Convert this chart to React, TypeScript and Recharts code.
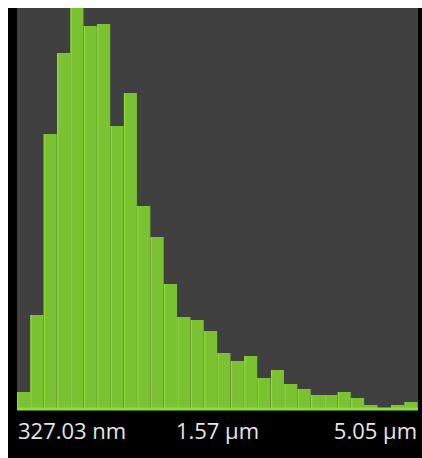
import { BarChart, Bar, XAxis, YAxis, CartesianGrid } from 'recharts';

// histogram bin heights (bin 5 runs past the top)
const binCounts = [
  17, 94, 275, 356, 404, 383, 385, 283, 316, 203,
  172, 125, 92, 89, 78, 56, 48, 53, 31, 39,
  25, 20, 14, 14, 17, 11, 4, 1, 4, 7,
];
const bins = binCounts.map((_, i) => `b${i}`);
// labelled bins: first, middle, last
const tickBins = ['b0', 'b15', 'b29'];
const tickLabels = ['327.03 nm', '1.57 µm', '5.05 µm'];

const data = bins.map((b, i) => ({ bin: b, count: binCounts[i] }));

const BAR_FILL = '#7bc232';
const BAR_EDGE = '#8fdc3e';

function BinShape(props: any) {
  const { x, y, width, height } = props;
  if (!height || height <= 0) return null;
  return (
    <g>
      <rect x={x} y={y} width={width} height={height} fill={BAR_FILL} />
      <rect x={x} y={y} width={1.2} height={height} fill={BAR_EDGE} />
    </g>
  );
}

function EdgeTick(props: any) {
  const { x, y, payload } = props;
  const i = tickBins.indexOf(payload.value);
  const halfBin = 6.7;
  let anchor: 'start' | 'middle' | 'end' = 'middle';
  let tx = x - halfBin;
  if (i === 0) { anchor = 'start'; tx = x - halfBin + 1; }
  if (i === tickBins.length - 1) { anchor = 'end'; tx = x + halfBin - 1; }
  return (
    <text x={tx} y={y + 30} textAnchor={anchor} fill="#e6e6e6"
      fontFamily="'Open Sans', 'Noto Sans', sans-serif" fontSize={22}>
      {tickLabels[i]}
    </text>
  );
}

export default function App() {
  return (
    <div style={{ position: 'absolute', left: 8, top: 8, background: '#000', width: 414, height: 450 }}>
      <BarChart width={414} height={450} data={data} barCategoryGap={0}
        margin={{ top: 0, right: 4, left: 9, bottom: 0 }}>
        <CartesianGrid horizontal={false} vertical={false} fill="#404040" />
        <XAxis dataKey="bin" ticks={tickBins} interval={0} height={49}
          tickLine={false} tickSize={0} tickMargin={0}
          axisLine={{ stroke: BAR_EDGE, strokeWidth: 3 }} tick={<EdgeTick />} />
        <YAxis hide domain={[0, 401]} allowDataOverflow />
        <Bar dataKey="count" shape={<BinShape />} isAnimationActive={false} />
      </BarChart>
    </div>
  );
}
